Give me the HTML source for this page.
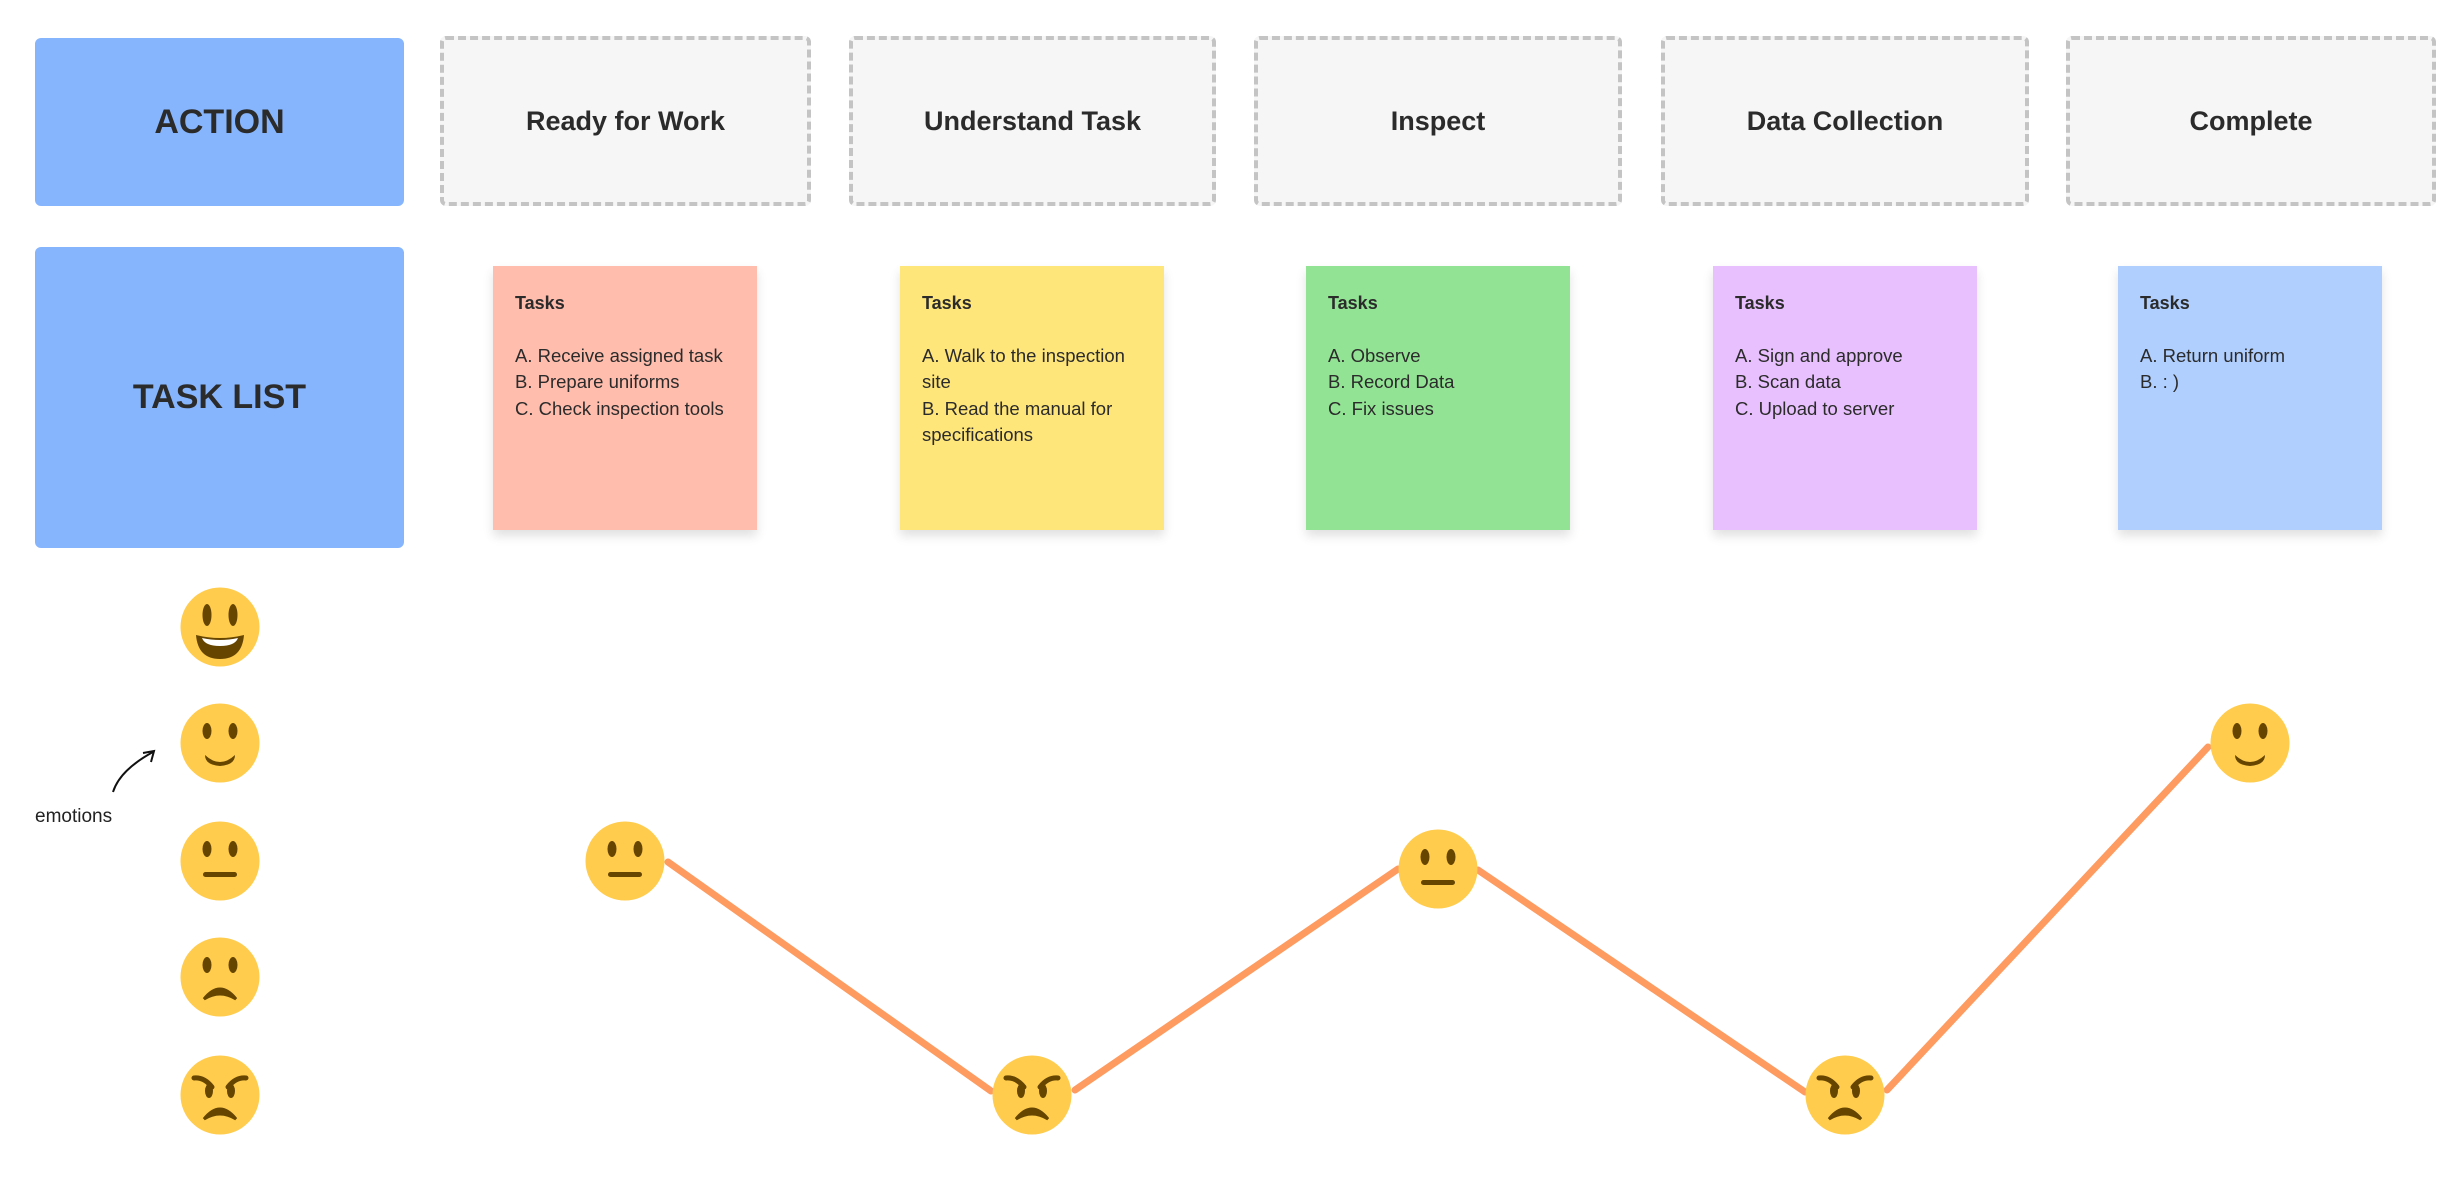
<!DOCTYPE html>
<html><head><meta charset="utf-8"><style>
html,body{margin:0;padding:0;background:#fff;}
body{width:2464px;height:1179px;position:relative;overflow:hidden;font-family:"Liberation Sans",sans-serif;color:#2b2b2b;}
.blue{position:absolute;background:#86b5fd;border-radius:6px;display:flex;align-items:center;justify-content:center;font-weight:bold;font-size:34px;color:#2b2b2b;}
.hd{position:absolute;top:36px;height:170px;background:#f6f6f6;border:4px dashed #c4c4c4;border-radius:6px;box-sizing:border-box;display:flex;align-items:center;justify-content:center;font-weight:bold;font-size:27px;}
.st{position:absolute;top:266px;width:264px;height:264px;box-shadow:0 6px 10px rgba(0,0,0,0.12);box-sizing:border-box;padding:24px 20px 0 22px;font-size:18.5px;line-height:26.5px;}
.st b{display:block;font-size:18px;margin-bottom:26px;}
svg{position:absolute;left:0;top:0;}
</style></head><body>
<div class="blue" style="left:35px;top:38px;width:369px;height:168px;">ACTION</div>
<div class="blue" style="left:35px;top:247px;width:369px;height:301px;">TASK LIST</div>
<div class="hd" style="left:440px;width:371px;">Ready for Work</div>
<div class="hd" style="left:849px;width:367px;">Understand Task</div>
<div class="hd" style="left:1254px;width:368px;">Inspect</div>
<div class="hd" style="left:1661px;width:368px;">Data Collection</div>
<div class="hd" style="left:2066px;width:370px;">Complete</div>

<div class="st" style="left:493px;background:#ffbdad;"><b>Tasks</b>A. Receive assigned task<br>B. Prepare uniforms<br>C. Check inspection tools</div>
<div class="st" style="left:900px;background:#ffe67a;"><b>Tasks</b>A. Walk to the inspection site<br>B. Read the manual for specifications</div>
<div class="st" style="left:1306px;background:#93e395;"><b>Tasks</b>A. Observe<br>B. Record Data<br>C. Fix issues</div>
<div class="st" style="left:1713px;background:#e8c0fe;"><b>Tasks</b>A. Sign and approve<br>B. Scan data<br>C. Upload to server</div>
<div class="st" style="left:2118px;background:#b0cffe;"><b>Tasks</b>A. Return uniform<br>B. : )</div>

<div style="position:absolute;left:35px;top:806px;font-size:19px;color:#222;">emotions</div>

<svg width="2464" height="1179" viewBox="0 0 2464 1179">
<defs>
<g id="base"><circle r="39.5" fill="#ffcc4d"/><ellipse cx="-13" cy="-12" rx="4.5" ry="8" fill="#664500"/><ellipse cx="13" cy="-12" rx="4.5" ry="8" fill="#664500"/></g>
<g id="happy"><circle r="39.5" fill="#ffcc4d"/><ellipse cx="-13" cy="-12" rx="4.5" ry="11" fill="#664500"/><ellipse cx="13" cy="-12" rx="4.5" ry="11" fill="#664500"/><path d="M-24 8 Q0 14 24 8 Q22 32 0 32 Q-22 32 -24 8Z" fill="#664500"/><path d="M-18 11 Q0 15 18 11 Q15 19 0 19 Q-15 19 -18 11Z" fill="#fff"/></g>
<g id="smile"><use href="#base"/><path d="M-15 12 Q0 26 15 12 Q15 22 0 23 Q-15 22 -15 12Z" fill="#664500"/></g>
<g id="neutral"><use href="#base"/><rect x="-17" y="11" width="34" height="5" rx="2.5" fill="#664500"/></g>
<g id="sad"><use href="#base"/><path d="M-16 22 Q0 2 16 22 Q0 12 -16 22Z" fill="#664500" stroke="#664500" stroke-width="3"/></g>
<g id="angry"><circle r="39.5" fill="#ffcc4d"/><path d="M-26 -17 Q-16 -18 -8 -8 M26 -17 Q16 -18 8 -8" stroke="#664500" stroke-width="5" fill="none" stroke-linecap="round"/><ellipse cx="-11" cy="-4" rx="4" ry="7" fill="#664500"/><ellipse cx="11" cy="-4" rx="4" ry="7" fill="#664500"/><path d="M-16 24 Q0 4 16 24 Q0 14 -16 24Z" fill="#664500" stroke="#664500" stroke-width="3"/></g>
</defs>
<g stroke="#fd9b60" stroke-width="7" stroke-linecap="round" fill="none">
<polyline points="668,862 991,1091"/>
<polyline points="1075,1090 1398,869"/>
<polyline points="1478,870 1805,1092"/>
<polyline points="1887,1090 2208,747"/>
</g>
<use href="#happy" x="220" y="627"/>
<use href="#smile" x="220" y="743"/>
<use href="#neutral" x="220" y="861"/>
<use href="#sad" x="220" y="977"/>
<use href="#angry" x="220" y="1095"/>
<use href="#neutral" x="625" y="861"/>
<use href="#angry" x="1032" y="1095"/>
<use href="#neutral" x="1438" y="869"/>
<use href="#angry" x="1845" y="1095"/>
<use href="#smile" x="2250" y="743"/>
<path d="M113 792 Q120 770 153 752" stroke="#111" stroke-width="2" fill="none"/>
<path d="M143 753 L154 751 L151 762" stroke="#111" stroke-width="2" fill="none"/>
</svg>
</body></html>
